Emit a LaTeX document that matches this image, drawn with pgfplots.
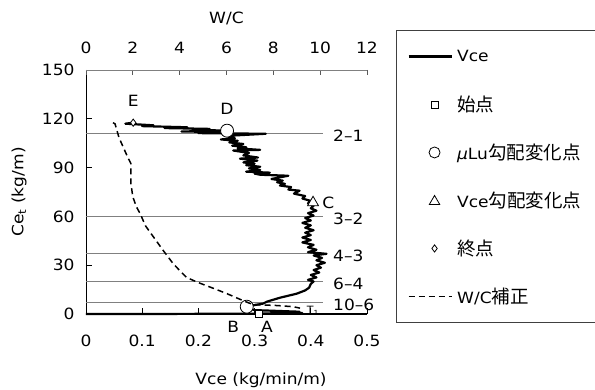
\documentclass[border=0pt]{standalone}
\usepackage{fontspec}
\setmainfont{DejaVu Sans}[FakeStretch=1.1]
\newfontfamily\jp{Noto Sans CJK JP}
\usepackage{pgfplots}
\pgfplotsset{compat=1.18}
\newcommand\lf{\fontsize{15.5}{18}\selectfont}
\newcommand\J[1]{{\jp\fontsize{18.5}{20}\selectfont #1}}
\pgfplotsset{
  lineleg/.style={legend image code/.code={\draw[##1, line width=2.2pt] (0pt,0pt) -- (43pt,0pt);}},
  dashleg/.style={legend image code/.code={\draw[##1, line width=1.8pt, dash pattern=on 6pt off 4pt] (0pt,0pt) -- (43pt,0pt);}},
  markleg/.style={legend image code/.code={\draw[##1] plot coordinates {(26pt,0pt)};}},
  circleg/.style={legend image code/.code={\draw[##1, mark size=5.5pt] plot coordinates {(26pt,0pt)};}},
  trileg/.style={legend image code/.code={\draw[##1, mark size=6pt] plot coordinates {(26pt,-1pt)};}},
}
\begin{document}
\begin{tikzpicture}
\useasboundingbox (0,0) rectangle (595pt,389pt);
\begin{axis}[
  at={(86pt,75pt)}, anchor=south west,
  scale only axis, width=281pt, height=244pt,
  xmin=0, xmax=0.5, ymin=0, ymax=150,
  axis x line*=bottom, axis y line*=left,
  x axis line style={black, line width=1.5pt},
  y axis line style={black, line width=0.9pt},
  tick align=inside, major tick length=6pt,
  tick style={black, line width=0.7pt},
  xtick={0,0.1,0.2,0.3,0.4,0.5}, xticklabels={0,0.1,0.2,0.3,0.4,0.5},
  ytick={0,30,60,90,120,150}, yticklabels={0,30,60,90,120,150},
  xticklabel shift=17pt, yticklabel shift=8pt,
  tick label style={font=\lf},
  xlabel={Vce (kg/min/m)}, ylabel={Ce\textsubscript{t} (kg/m)},
  label style={font=\lf},
  xlabel style={at={(axis description cs:0.623,-0.270)}, anchor=center},
  ylabel style={at={(axis description cs:-0.238,0.5)}, anchor=center},
  clip=false,
  legend cell align=left,
  legend style={at={(1.1032,1.1639)}, anchor=north west, draw=black!75, line width=0.9pt,
    inner xsep=11pt, inner ysep=2pt, column sep=3pt, fill=white,
    nodes={minimum height=48pt, inner sep=1.5pt, text width=150pt, font=\lf}},
]
% horizontal level lines
\addplot[forget plot, gray, line width=0.9pt] coordinates {(0,111) (0.422,111)};
\addplot[forget plot, gray, line width=0.9pt] coordinates {(0,60) (0.422,60)};
\addplot[forget plot, gray, line width=0.9pt] coordinates {(0,37.3) (0.422,37.3)};
\addplot[forget plot, gray, line width=0.9pt] coordinates {(0,20.1) (0.422,20.1)};
\addplot[forget plot, gray, line width=0.9pt] coordinates {(0,7.2) (0.422,7.2)};
% Vce
\addplot[black, line width=2.2pt, line join=round, lineleg]
coordinates {
(0,0) (0.1,0) (0.2,0.1) (0.3,0.2) (0.385,0.6) (0.33,1.0) (0.38,1.4) (0.30,2.4) (0.29,3.5)
(0.286,4.5) (0.30,5.5) (0.315,6.4) (0.322,7.6) (0.345,10.0) (0.375,12.5) (0.39,14.5)
(0.397,16.2) (0.40,18.5) (0.405,20.0) (0.395,21.0) (0.41,22.5) (0.40,24) (0.415,25.5)
(0.405,27) (0.418,28.5) (0.41,30) (0.425,31.5) (0.41,33) (0.42,34.5) (0.405,36) (0.428,37)
(0.395,38) (0.41,39.5) (0.395,41) (0.405,42.5) (0.385,44) (0.40,45.5) (0.385,47) (0.40,48.5)
(0.39,50) (0.405,51.5) (0.39,53) (0.40,54.5) (0.385,56) (0.40,57.5) (0.39,59) (0.405,60.5)
(0.395,62) (0.41,63.5) (0.40,65) (0.405,66.5) (0.395,68) (0.40,69.5) (0.385,71) (0.39,72.5)
(0.37,74) (0.38,75.8) (0.36,76.5) (0.365,78) (0.345,79) (0.354,80) (0.34,81) (0.35,82)
(0.33,83) (0.36,85) (0.31,85.6) (0.30,86.3) (0.327,86.9) (0.285,87.5) (0.31,88.5) (0.29,89.5)
(0.31,90.5) (0.285,91.5) (0.30,92.4) (0.28,93.2) (0.305,94.3) (0.274,95.5) (0.306,96.2)
(0.28,97.5) (0.29,99) (0.262,100.5) (0.31,100.9) (0.27,101.8) (0.285,102.5) (0.26,103.5)
(0.28,104.5) (0.255,105.5) (0.27,106.5) (0.24,107.3) (0.265,108) (0.25,109.5) (0.32,110.8)
(0.20,111.2) (0.26,111.8) (0.17,112.2) (0.251,112.7) (0.19,113.3) (0.22,113.8) (0.14,114.3)
(0.18,114.8) (0.10,115.5) (0.12,116) (0.07,117) (0.084,117.6)
};
\addlegendentry{Vce}
\addplot[only marks, mark=square*, mark size=3.5pt, mark options={fill=white, draw=black, line width=0.8pt}, markleg]
coordinates {(0.308,0)};
\addlegendentry{\J{始点}}
\addplot[only marks, mark=*, mark size=6.5pt, mark options={fill=white, draw=black, line width=0.8pt}, circleg]
coordinates {(0.286,4.5) (0.251,112.7)};
\addlegendentry{{\itshape μ}Lu\J{勾配変化点}}
\addplot[only marks, mark=triangle*, mark size=6.3pt, mark options={fill=white, draw=black, line width=0.8pt}, trileg]
coordinates {(0.404,68.5)};
\addlegendentry{Vce\J{勾配変化点}}
\addplot[only marks, mark=diamond*, mark size=3.6pt, mark options={fill=white, draw=black, line width=0.8pt}, markleg]
coordinates {(0.084,117.6)};
\addlegendentry{\J{終点}}
\addlegendimage{black, dashleg}
\addlegendentry{W/C\J{補正}}
% labels
\node[font=\lf] at (axis cs:0.084,131) {E};
\node[font=\lf] at (axis cs:0.251,126) {D};
\node[font=\lf] at (axis cs:0.431,68.5) {C};
\node[font=\lf] at (axis cs:0.262,-8.2) {B};
\node[font=\lf] at (axis cs:0.322,-8.2) {A};
\node[font=\fontsize{10}{12}\selectfont] at (axis cs:0.404,2.1) {T\textsubscript{1}};
\node[font=\lf, anchor=west, inner sep=0pt] at (axis cs:0.4395,109.6) {2–1};
\node[font=\lf, anchor=west, inner sep=0pt] at (axis cs:0.4395,58.7) {3–2};
\node[font=\lf, anchor=west, inner sep=0pt] at (axis cs:0.4395,35.9) {4–3};
\node[font=\lf, anchor=west, inner sep=0pt] at (axis cs:0.4395,18.7) {6–4};
\node[font=\lf, anchor=west, inner sep=0pt] at (axis cs:0.4395,5.8) {10–6};
\end{axis}
\begin{axis}[
  at={(86pt,75pt)}, anchor=south west,
  scale only axis, width=281pt, height=244pt,
  xmin=0, xmax=12, ymin=0, ymax=150,
  axis x line*=top, axis y line=none,
  x axis line style={gray, line width=0.9pt},
  tick align=inside, major tick length=5pt,
  tick style={gray!70!black, line width=0.7pt},
  xtick={0,2,4,6,8,10,12}, xticklabels={0,2,4,6,8,10,12},
  ytick=\empty,
  xticklabel shift=12.5pt,
  tick label style={font=\lf},
  xlabel={W/C}, label style={font=\lf},
  xlabel style={at={(axis description cs:0.5,1.213)}, anchor=center},
  clip=false,
]
\addplot[black, line width=1.5pt, dash pattern=on 6pt off 4pt] coordinates {
(1.15,117.6) (1.24,116.9) (1.41,108.4) (1.79,96.1) (1.92,92.4) (1.92,80) (2.0,72) (2.15,66)
(2.31,61.7) (2.55,54) (2.9,47.0) (3.3,39.0) (3.72,31.0) (4.05,26) (4.3,22.4) (4.8,19.3)
(5.4,16) (6.02,12.5) (6.71,8.2) (7.13,5.8) (8.16,5.2) (8.84,4.5) (9.14,3.6)
};
\end{axis}
\end{tikzpicture}
\end{document}
